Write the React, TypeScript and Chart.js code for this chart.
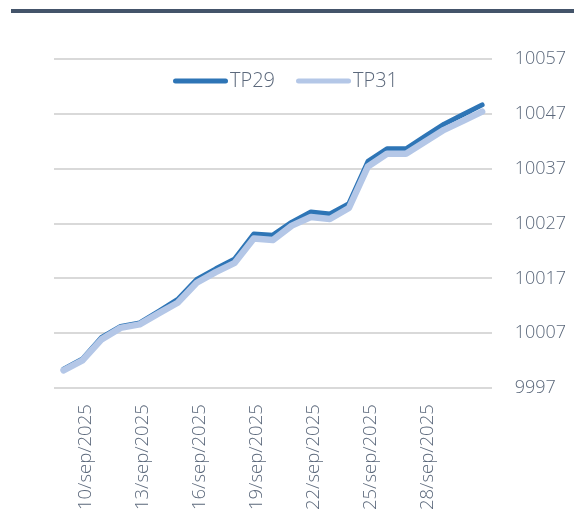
import React, { useEffect, useRef } from "react";
import { Chart, registerables } from "chart.js";

Chart.register(...registerables);

const categories = [
  "9/sep/2025", "10/sep/2025", "11/sep/2025", "12/sep/2025", "13/sep/2025",
  "14/sep/2025", "15/sep/2025", "16/sep/2025", "17/sep/2025", "18/sep/2025",
  "19/sep/2025", "20/sep/2025", "21/sep/2025", "22/sep/2025", "23/sep/2025",
  "24/sep/2025", "25/sep/2025", "26/sep/2025", "27/sep/2025", "28/sep/2025",
  "29/sep/2025", "30/sep/2025", "1/oct/2025",
];

const shownTickLabels = [
  "10/sep/2025", "13/sep/2025", "16/sep/2025", "19/sep/2025",
  "22/sep/2025", "25/sep/2025", "28/sep/2025",
];

const tp29 = [
  10000.45, 10002.36, 10006.27, 10008.27, 10008.9, 10011.0, 10013.18, 10016.82,
  10018.76, 10020.58, 10025.1, 10024.9, 10027.27, 10029.13, 10028.76, 10030.64,
  10038.33, 10040.64, 10040.64, 10042.9, 10045.13, 10046.9, 10048.64,
];

const tp31 = [
  10000.27, 10002.09, 10005.91, 10008.0, 10008.64, 10010.64, 10012.58, 10016.22,
  10018.15, 10019.85, 10024.3, 10024.0, 10026.64, 10028.22, 10027.85, 10029.85,
  10037.42, 10039.73, 10039.73, 10041.9, 10044.09, 10045.73, 10047.42,
];

const seriesNames = ["TP29", "TP31"];
const yMin = 9997;
const yMax = 10057;
const yStep = 10;

const DARK = "#2E75B6";
const LIGHT = "#B4C7E7";
const TEXT = "#5b687b";
const FONT = '"Open Sans", "DejaVu Sans", sans-serif';

const legendPlugin = {
  id: "insideLegend",
  afterDatasetsDraw(chart: any) {
    const { ctx, chartArea } = chart;
    ctx.save();
    ctx.font = `300 20px ${FONT}`;
    ctx.textBaseline = "middle";
    ctx.textAlign = "left";
    let x = chartArea.left + 121.5;
    const y = chartArea.top + 22;
    chart.data.datasets.forEach((ds: any) => {
      ctx.strokeStyle = ds.borderColor;
      ctx.lineWidth = 5;
      ctx.lineCap = "round";
      ctx.beginPath();
      ctx.moveTo(x, y);
      ctx.lineTo(x + 50, y);
      ctx.stroke();
      x += 50 + 4.5;
      ctx.fillStyle = TEXT;
      ctx.fillText(ds.label, x, y);
      x += ctx.measureText(ds.label).width + 23.5;
    });
    ctx.restore();
  },
};

export default function App() {
  const canvasRef = useRef<HTMLCanvasElement | null>(null);

  useEffect(() => {
    if (!canvasRef.current) return;
    const chart = new Chart(canvasRef.current, {
      type: "line",
      data: {
        labels: categories,
        datasets: [
          {
            label: seriesNames[0],
            data: tp29,
            borderColor: DARK,
            backgroundColor: DARK,
            borderWidth: 5,
            borderCapStyle: "round",
            borderJoinStyle: "round",
            pointRadius: 0,
            tension: 0,
            order: 1,
          },
          {
            label: seriesNames[1],
            data: tp31,
            borderColor: LIGHT,
            backgroundColor: LIGHT,
            borderWidth: 6.5,
            borderCapStyle: "round",
            borderJoinStyle: "round",
            pointRadius: 0,
            tension: 0,
            order: 0,
          },
        ],
      },
      options: {
        animation: false,
        responsive: false,
        maintainAspectRatio: false,
        layout: { padding: { left: 54, right: 0, top: 59, bottom: 0 } },
        plugins: {
          legend: { display: false },
          tooltip: { enabled: false },
        },
        scales: {
          x: {
            type: "category",
            offset: true,
            grid: { display: false, drawTicks: true, tickLength: 8 },
            border: { display: false },
            ticks: {
              autoSkip: false,
              maxRotation: 90,
              minRotation: 90,
              padding: 8,
              labelOffset: 3,
              color: TEXT,
              font: { family: FONT, size: 18.5, weight: "300" as any },
              callback: function (this: any, _v: any, i: number) {
                const lab = categories[i];
                return shownTickLabels.includes(lab) ? lab : "";
              },
            },
          },
          y: {
            position: "right",
            min: yMin,
            max: yMax,
            grid: {
              color: "#d9d9d9",
              lineWidth: 2,
              drawTicks: true,
              tickLength: 15,
              tickColor: "rgba(0,0,0,0)",
            },
            border: { display: false },
            ticks: {
              stepSize: yStep,
              padding: 8,
              color: TEXT,
              font: { family: FONT, size: 18, weight: "300" as any },
              callback: (v: any) => String(v),
            },
          },
        },
      },
      plugins: [legendPlugin],
    });
    return () => chart.destroy();
  }, []);

  return (
    <div style={{ position: "absolute", left: 0, top: 0, width: 574, height: 518, background: "#fff" }}>
      <div style={{ position: "absolute", left: 11, top: 9, width: 563, height: 4, background: "#44546A" }} />
      <canvas ref={canvasRef} width={574} height={518} style={{ display: "block" }} />
    </div>
  );
}
